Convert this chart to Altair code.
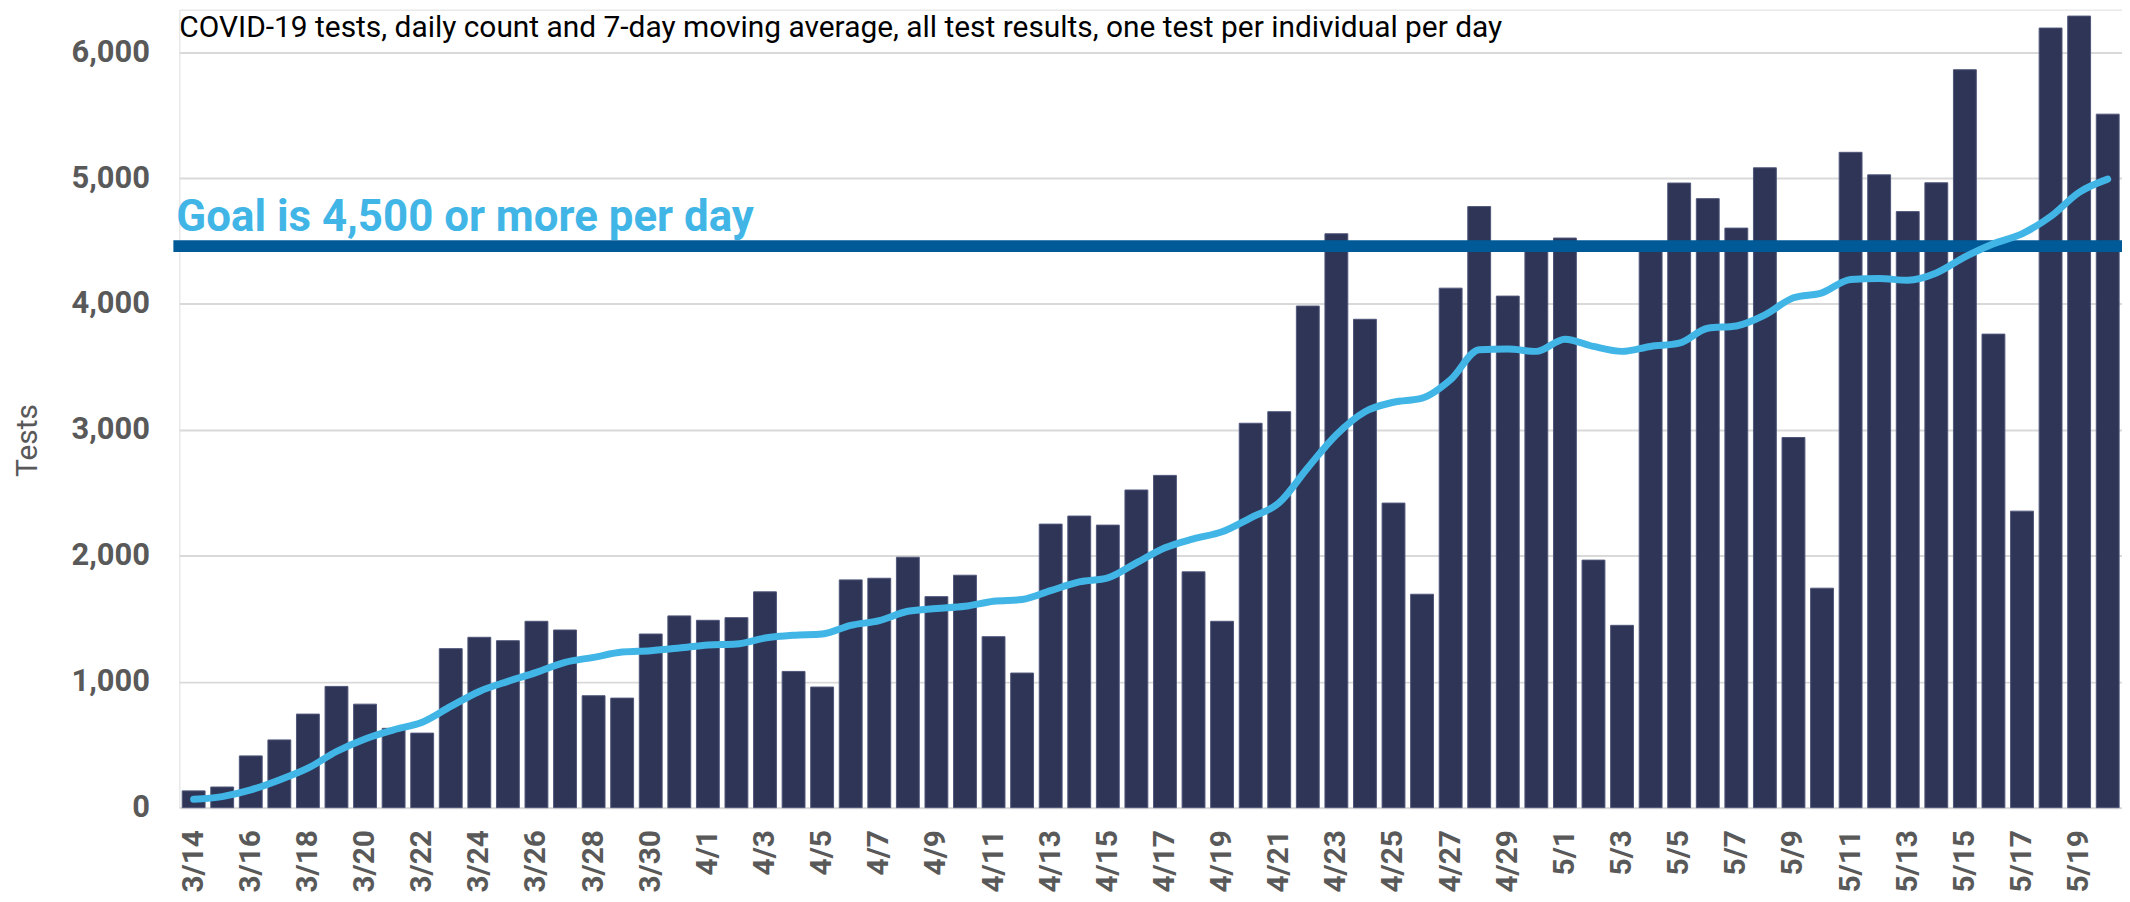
import altair as alt
import pandas as pd

dates = (
    [f"3/{d}" for d in range(14, 32)]
    + [f"4/{d}" for d in range(1, 31)]
    + [f"5/{d}" for d in range(1, 21)]
)

daily_tests = [
    133, 164, 411, 538, 743, 963, 822, 630, 592, 1263, 1353, 1326, 1480, 1411, 889, 870, 1379, 1523,
    1488, 1509, 1714, 1082, 958, 1809, 1822, 1989, 1676, 1846, 1358, 1069, 2252, 2316, 2244, 2523,
    2639, 1873, 1480, 3053, 3145, 3984, 4558, 3879, 2419, 1695, 4126, 4774, 4063, 4480,
    4524, 1966, 1448, 4470, 4961, 4837, 4603, 5082, 2940, 1743, 5205, 5026, 4734, 4963, 5861,
    3761, 2355, 6192, 6287, 5508,
]

moving_avg = [
    66, 88, 141, 220, 313, 446, 546, 618, 679, 804, 923, 1003, 1074, 1154, 1194, 1236, 1247, 1268,
    1292, 1300, 1347, 1369, 1379, 1448, 1485, 1560, 1581, 1599, 1639, 1653, 1724, 1793, 1825, 1944,
    2064, 2135, 2191, 2302, 2422, 2700, 2962, 3145, 3220, 3252, 3400, 3637, 3642, 3624,
    3721, 3663, 3624, 3663, 3689, 3808, 3826, 3913, 4050, 4089, 4195, 4203, 4189, 4247, 4374,
    4479, 4558, 4695, 4887, 4992,
]

goal_value = [4460]
y_ticks = [0, 1000, 2000, 3000, 4000, 5000, 6000]
x_tick_labels = dates[::2]

title_text = "COVID-19 tests, daily count and 7-day moving average, all test results, one test per individual per day"
goal_text = "Goal is 4,500 or more per day"

df = pd.DataFrame({"date": dates, "tests": daily_tests, "avg": moving_avg})

W = 1950
H = 801

x_enc = alt.X(
    "date:N",
    sort=None,
    scale=alt.Scale(paddingInner=0.2, paddingOuter=0.1),
    axis=alt.Axis(
        title=None,
        values=x_tick_labels,
        labelAngle=270,
        labelFontSize=30,
        labelFontWeight="bold",
        labelColor="#595959",
        labelPadding=22,
        ticks=False,
        domain=False,
        grid=False,
    ),
)

y_scale = alt.Scale(domain=[0, 6338], nice=False, zero=True)

bars = alt.Chart(df).mark_bar(color="#2f3557", stroke="#4f5679", strokeWidth=1).encode(
    x=x_enc,
    y=alt.Y(
        "tests:Q",
        scale=y_scale,
        axis=alt.Axis(
            title="Tests",
            values=y_ticks,
            format=",d",
            labelFontSize=31,
            labelFontWeight="bold",
            labelColor="#595959",
            labelPadding=30,
            ticks=False,
            domain=False,
            gridColor="#d9d9d9",
            gridWidth=2,
            titleFontSize=30,
            titleFontWeight="normal",
            titleColor="#595959",
            titleAngle=270,
            titleX=-152,
            titleY=432,
            titleAlign="center",
            titleBaseline="middle",
        ),
    ),
)

goal_df = pd.DataFrame({"goal": goal_value})
goal_rule = alt.Chart(goal_df).mark_rule(color="#005a97", strokeWidth=12).encode(
    y=alt.Y("goal:Q", scale=y_scale),
    x=alt.value(-6),
    x2=alt.value(W),
)

line = alt.Chart(df).mark_line(
    color="#41b6e6", strokeWidth=7, interpolate="monotone", strokeCap="round", strokeJoin="round"
).encode(
    x=alt.X("date:N", sort=None),
    y=alt.Y("avg:Q", scale=y_scale),
)

goal_label = alt.Chart(pd.DataFrame({"t": [goal_text]})).mark_text(
    align="left", baseline="alphabetic", font="Roboto", fontSize=44, fontWeight="bold", color="#41b6e6"
).encode(text="t:N", x=alt.value(-3), y=alt.value(222))

title_label = alt.Chart(pd.DataFrame({"t": [title_text]})).mark_text(
    align="left", baseline="alphabetic", font="Roboto", fontSize=30, color="#000000"
).encode(text="t:N", x=alt.value(0), y=alt.value(27))

chart = (
    alt.layer(bars, goal_rule, line, goal_label, title_label)
    .resolve_scale(y="shared", x="shared")
    .properties(
        width=W,
        height=H,
        autosize=alt.AutoSizeParams(type="none"),
        padding={"left": 172, "top": 0, "right": 0, "bottom": 85},
    )
    .configure_view(stroke=None)
    .configure(font="Roboto")
)

chart.save("out.html", embed_options={"renderer": "svg", "actions": False})
